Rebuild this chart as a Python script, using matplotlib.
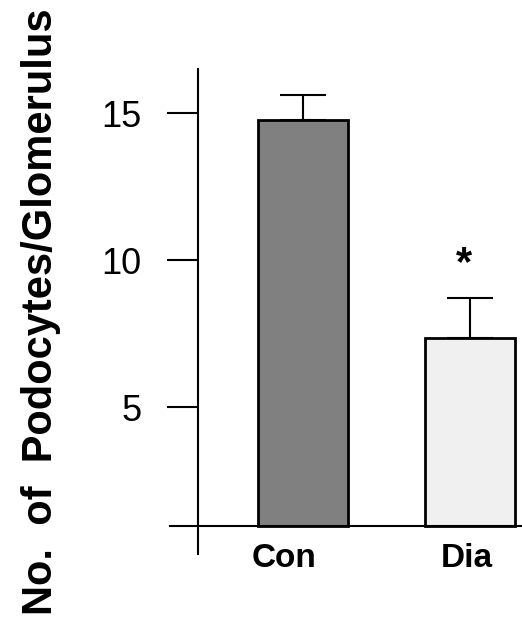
import matplotlib.pyplot as plt
import numpy as np

# Data
groups = ['Con', 'Dia']
means = np.array([14.77, 7.35])
sem = np.array([0.86, 1.37])
colors = ['#808080', '#f0f0f0']
base = 0.95  # where the x-axis crosses the y-axis

plt.rcParams['font.family'] = ['Liberation Sans', 'DejaVu Sans']

W, H = 522, 621
fig = plt.figure(figsize=(W / 100, H / 100), dpi=100)
# axes box in pixels: left 170, right 522, top 69, bottom 554
ax = fig.add_axes([170 / W, (H - 554) / H, (522 - 170) / W, (554 - 69) / H])

x = np.arange(len(groups))
ax.bar(x, means - base, bottom=base, width=0.537, color=colors,
       edgecolor='black', linewidth=2.0, zorder=2)
ax.errorbar(x, means, yerr=[np.zeros_like(sem), sem], fmt='none',
            ecolor='black', elinewidth=1.5, capsize=16.5, capthick=1.5, zorder=1)

ax.set_xlim(-0.792, 1.308)
ax.set_ylim(0, 16.5)

# significance marker
ax.text(x[1] - 0.04, means[1] + sem[1] + 0.45, '*', ha='center', va='bottom',
        fontsize=30, fontweight='bold')

for s in ['top', 'right']:
    ax.spines[s].set_visible(False)
ax.spines['left'].set_position(('data', -0.622))
ax.spines['bottom'].set_position(('data', base))
ax.spines['left'].set_linewidth(1.5)
ax.spines['bottom'].set_linewidth(1.5)

ax.set_yticks([5, 10, 15])
ax.set_yticklabels(['5', '10', '15'], fontsize=26)
ax.tick_params(axis='y', direction='out', length=22, width=1.5, pad=19)

ax.set_xticks(x - np.array([0.11, 0.02]))
ax.set_xticklabels(groups, fontsize=24, fontweight='bold')
ax.tick_params(axis='x', length=0, pad=12)

fig.text(41 / W, 1 - 312 / H, 'No.  of  Podocytes/Glomerulus', rotation=90,
         ha='center', va='center', fontsize=30, fontweight='bold')

fig.savefig('out.png', dpi=100)
